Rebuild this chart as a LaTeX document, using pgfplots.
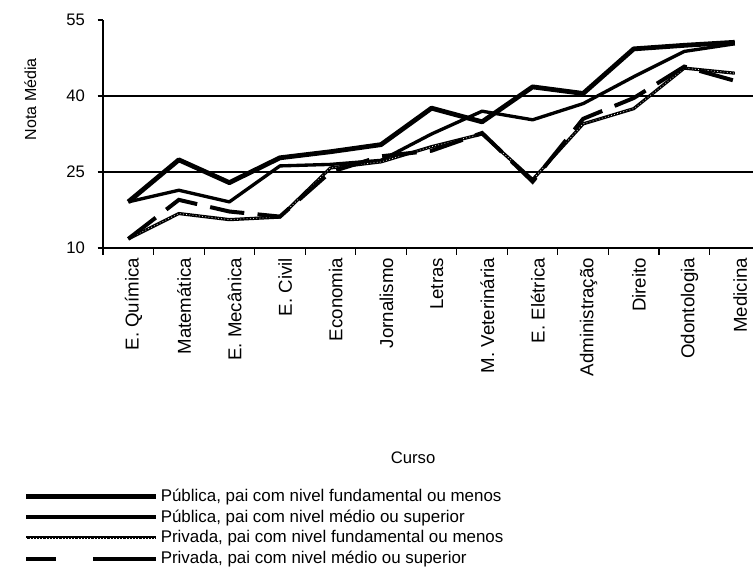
\documentclass[border=0pt]{standalone}
\usepackage{fontspec}
\setmainfont{Liberation Sans}
\usepackage{pgfplots}
\pgfplotsset{compat=1.18}

% Nota media por curso
\pgfplotstableread{
x  pubfund pubmed privfund privmed
0  19.1    19.1   11.8     11.8
1  27.4    21.4   16.8     19.5
2  22.9    19.1   15.6     17.2
3  27.8    26.2   16.1     16.2
4  29.0    26.5   25.8     25.0
5  30.4    27.3   27.0     28.1
6  37.6    32.5   30.0     29.2
7  34.9    37.0   32.5     32.7
8  41.8    35.3   23.5     23.1
9  40.5    38.5   34.5     35.5
10 49.3    43.8   37.5     39.6
11 50.0    48.8   45.5     45.8
12 50.6    50.3   44.5     43.0
}\notas

\begin{document}
\begin{tikzpicture}
\path[use as bounding box] (0pt,0pt) rectangle (564.75pt,427.5pt);
\begin{axis}[
  at={(77.25pt,241.5pt)}, anchor=south west,
  scale only axis, width=487.5pt, height=171pt,
  font=\fontsize{12}{14}\selectfont,
  xmin=-0.5, xmax=12.36, ymin=10, ymax=55,
  axis x line*=bottom, axis y line*=left,
  axis line style={line width=1pt},
  ytick={10,25,40,55},
  /pgf/number format/assume math mode=true,
  yticklabel style={xshift=-6pt, font=\fontsize{12.5}{15}\selectfont},
  xtick={0,...,12},
  xticklabels={E. Química, Matemática, E. Mecânica, E. Civil, Economia, Jornalismo, Letras, M. Veterinária, E. Elétrica, Administração, Direito, Odontologia, Medicina},
  xticklabel style={rotate=90, anchor=east, yshift=-4pt, font=\fontsize{14}{17}\selectfont},
  major x tick style={draw=none},
  minor xtick={-0.5,0.5,...,11.5},
  tick align=outside,
  major tick length=4pt, minor tick length=5pt,
  tick style={black, line width=0.8pt},
  ylabel={Nota Média},
  ylabel style={at={(rel axis cs:-0.112,0.653)}, anchor=center},
  xlabel={Curso},
  xlabel style={at={(rel axis cs:0.477,-0.921)}, anchor=center, font=\fontsize{12.5}{15}\selectfont},
  legend style={at={(rel axis cs:-0.122,-1.044)}, anchor=north west,
    draw=none, fill=none, inner sep=0pt, row sep=0.8pt,
    font=\fontsize{12.7}{14.5}\selectfont},
  legend cell align=left,
  legend image code/.code={\draw[#1] (0pt,0pt) -- (97pt,0pt);},
]
\addplot[black, line width=1pt, forget plot] coordinates {(-0.5,40) (12.36,40)};
\addplot[black, line width=1pt, forget plot] coordinates {(-0.5,25) (12.36,25)};

\addplot[black, line width=3.6pt, line join=round] table[x=x, y=pubfund] {\notas};
\addlegendentry{Pública, pai com nivel fundamental ou menos}
\addplot[black, line width=2.5pt, line join=round] table[x=x, y=pubmed] {\notas};
\addlegendentry{Pública, pai com nivel médio ou superior}
\addplot[black, line width=2.4pt, line join=round,
  postaction={draw=white, line width=0.5pt, dash pattern=on 0.6pt off 1.8pt}]
  table[x=x, y=privfund] {\notas};
\addlegendentry{Privada, pai com nivel fundamental ou menos}
\addplot[black, line width=3pt, dash pattern=on 26pt off 10pt,
  legend image code/.code={\draw[black, solid, line width=3pt] (0pt,0pt) -- (22pt,0pt) (50pt,0pt) -- (97pt,0pt);}]
  table[x=x, y=privmed] {\notas};
\addlegendentry{Privada, pai com nivel médio ou superior}
\end{axis}
\end{tikzpicture}
\end{document}
